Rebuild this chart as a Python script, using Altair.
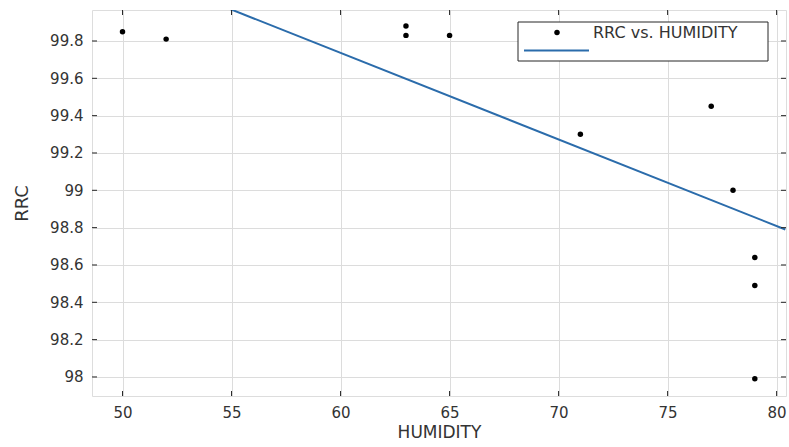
import altair as alt
import pandas as pd

humidity = [50, 52, 63, 63, 65, 71, 77, 78, 79, 79, 79]
rrc = [99.85, 99.81, 99.88, 99.83, 99.83, 99.30, 99.45, 99.00, 98.64, 98.49, 97.99]

fit_x = [48.6, 80.4]
fit_y = [100.265, 98.79]

x_ticks = [50, 55, 60, 65, 70, 75, 80]
y_ticks = [98, 98.2, 98.4, 98.6, 98.8, 99, 99.2, 99.4, 99.6, 99.8]

legend_label = "RRC vs. HUMIDITY"

W, H = 694, 386
FONT = "DejaVu Sans"
TXT = "#333333"

xs = alt.Scale(domain=[48.6, 80.43], nice=False, zero=False)
ys = alt.Scale(domain=[97.898, 99.966], nice=False, zero=False)

pts = pd.DataFrame({"HUMIDITY": humidity, "RRC": rrc})
fit = pd.DataFrame({"HUMIDITY": fit_x, "RRC": fit_y})
xt = pd.DataFrame({"v": x_ticks})
yt = pd.DataFrame({"v": y_ticks})
one = pd.DataFrame({"a": [0]})

xaxis = alt.Axis(values=x_ticks, grid=True, gridColor="#dcdcdc", tickSize=0,
                 domain=False, labelFont=FONT, labelFontSize=15, labelColor=TXT,
                 labelPadding=9, title="HUMIDITY", titleFont=FONT, titleFontSize=17,
                 titleFontWeight="normal", titleColor=TXT, titlePadding=4)
yaxis = alt.Axis(values=y_ticks, grid=True, gridColor="#dcdcdc", tickSize=0,
                 domain=False, labelFont=FONT, labelFontSize=15, labelColor=TXT,
                 labelPadding=9, title="RRC", titleFont=FONT, titleFontSize=18,
                 titleFontWeight="normal", titleColor=TXT, titlePadding=18,
                 labelExpr="datum.value == 99 ? '99' : datum.value == 98 ? '98' : format(datum.value, '.1f')")

points = alt.Chart(pts).mark_circle(color="black", opacity=1, size=30).encode(
    x=alt.X("HUMIDITY:Q", scale=xs, axis=xaxis),
    y=alt.Y("RRC:Q", scale=ys, axis=yaxis),
)

line = alt.Chart(fit).mark_line(color="#2b6cab", strokeWidth=2, clip=True).encode(
    x=alt.X("HUMIDITY:Q", scale=xs),
    y=alt.Y("RRC:Q", scale=ys),
)

tick_style = dict(color="#262626", strokeWidth=1)
bx = alt.Chart(xt).mark_rule(**tick_style).encode(x=alt.X("v:Q", scale=xs), y=alt.value(H), y2=alt.value(H - 5))
tx = alt.Chart(xt).mark_rule(**tick_style).encode(x=alt.X("v:Q", scale=xs), y=alt.value(0), y2=alt.value(5))
ly = alt.Chart(yt).mark_rule(**tick_style).encode(y=alt.Y("v:Q", scale=ys), x=alt.value(0), x2=alt.value(5))
ry = alt.Chart(yt).mark_rule(**tick_style).encode(y=alt.Y("v:Q", scale=ys), x=alt.value(W), x2=alt.value(W - 5))

# legend
lbox = alt.Chart(one).mark_rect(fill="white", stroke="#262626", strokeWidth=1).encode(
    x=alt.value(426), x2=alt.value(676), y=alt.value(12), y2=alt.value(51))
ldot = alt.Chart(one).mark_circle(color="black", opacity=1, size=30).encode(
    x=alt.value(465), y=alt.value(22.5))
ltext = alt.Chart(one).mark_text(text=legend_label, font=FONT, fontSize=16, color=TXT,
                                 align="left", baseline="middle").encode(
    x=alt.value(501), y=alt.value(23))
lline = alt.Chart(one).mark_rule(color="#2b6cab", strokeWidth=2).encode(
    x=alt.value(432), x2=alt.value(497), y=alt.value(40.5))

chart = alt.layer(line, points, bx, tx, ly, ry, lbox, ldot, ltext, lline).properties(
    width=W, height=H,
    autosize=alt.AutoSizeParams(type="none"),
    padding={"left": 92, "top": 10, "right": 3, "bottom": 51},
).configure_view(stroke="#262626", strokeWidth=1.3).configure(background="white")

chart.save("out.html", embed_options={"renderer": "svg", "actions": False})
